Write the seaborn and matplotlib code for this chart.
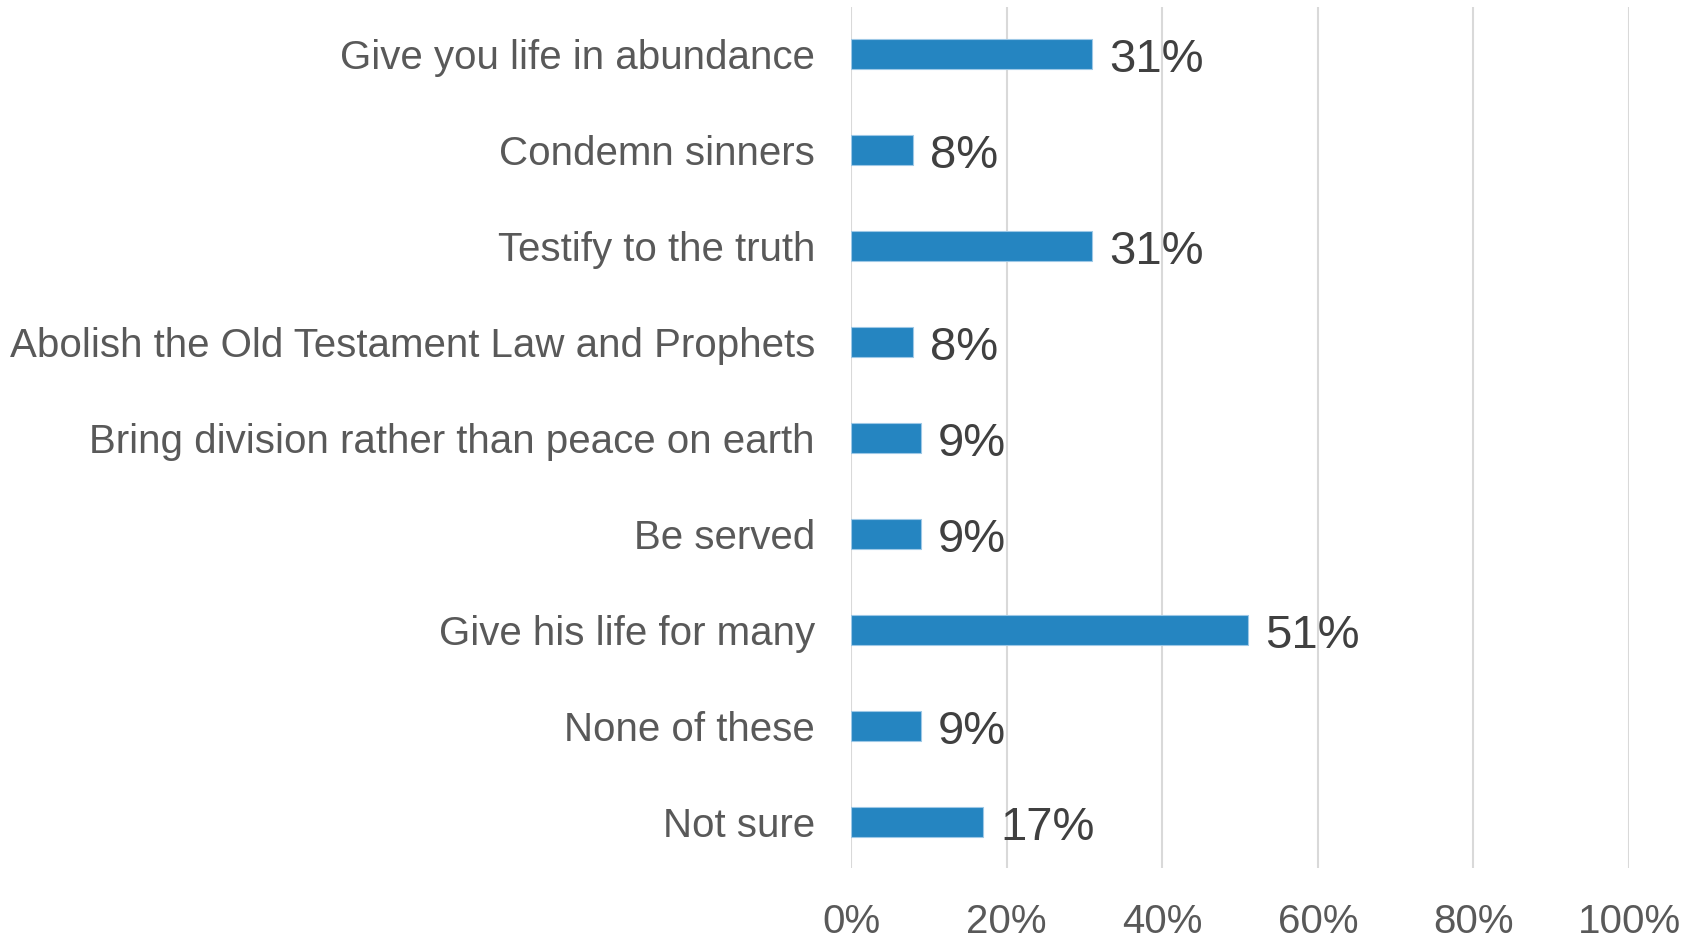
import numpy as np
import pandas as pd
import matplotlib
matplotlib.use("Agg")
import matplotlib.pyplot as plt
import seaborn as sns

categories = [
    "Give you life in abundance",
    "Condemn sinners",
    "Testify to the truth",
    "Abolish the Old Testament Law and Prophets",
    "Bring division rather than peace on earth",
    "Be served",
    "Give his life for many",
    "None of these",
    "Not sure",
]
values = [31, 8, 31, 8, 9, 9, 51, 9, 17]
x_ticks = [0, 20, 40, 60, 80, 100]

sns.set_theme(style="white")
plt.rcParams["font.family"] = ["Liberation Sans", "DejaVu Sans"]

df = pd.DataFrame({"answer": categories, "pct": values})

fig = plt.figure(figsize=(16.98, 9.40), dpi=100)
ax = fig.add_axes([0.5012, 0.0766, 0.4582, 0.916])

sns.barplot(data=df, x="pct", y="answer", order=categories, orient="h",
            color="#2585C1", saturation=1, width=0.31, ax=ax,
            edgecolor="#9DC8E6", linewidth=0.8)

# value labels, baseline a bit below bar centre like the original
for i, v in enumerate(values):
    ax.text(v + 2.2, i + 0.19, f"{v}%", va="baseline", ha="left", size=34, color="#404040")

ax.set_xlim(0, 100)
ax.set_ylim(8.48, -0.49)
ax.set_xticks(x_ticks)
ax.set_xticklabels([f"{t}%" for t in x_ticks])
ax.xaxis.grid(True, color="#D9D9D9", linewidth=1.5)
ax.set_axisbelow(True)
for s in ax.spines.values():
    s.set_visible(False)
ax.tick_params(axis="x", length=0, pad=25.5, labelsize=29, labelcolor="#595959")
ax.tick_params(axis="y", length=0, pad=26, labelsize=29, labelcolor="#595959")
ax.set_xlabel("")
ax.set_ylabel("")

fig.savefig("out.png", dpi=100)
